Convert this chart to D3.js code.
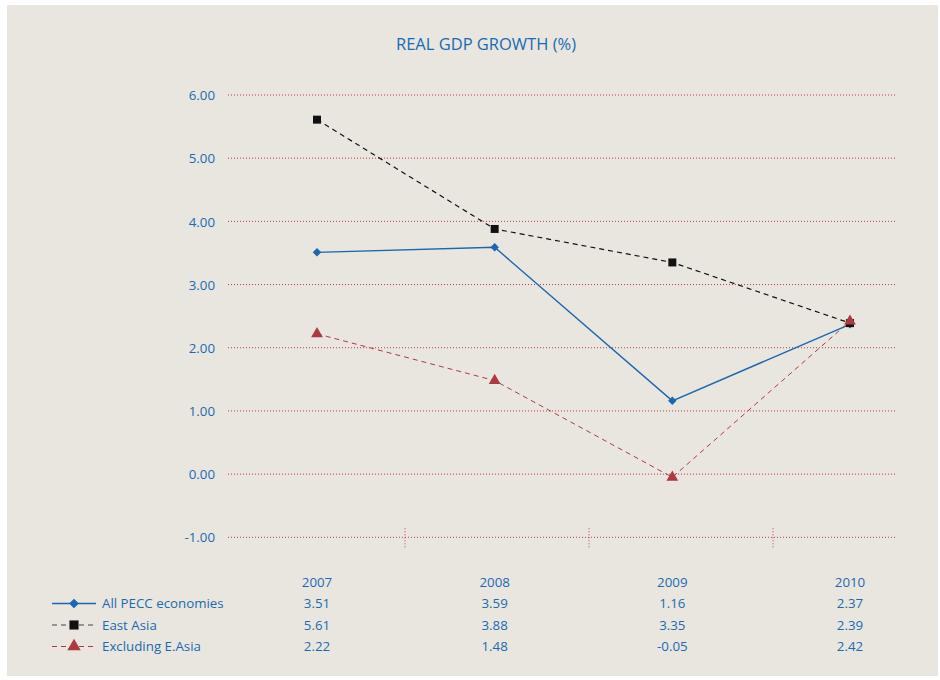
<!DOCTYPE html>
<html>
<head>
<meta charset="utf-8">
<script src="https://cdn.jsdelivr.net/npm/d3@7"></script>
<style>
  html, body { margin: 0; padding: 0; background: #ffffff; }
  svg { display: block; }
  text { font-family: "Open Sans", "Noto Sans", sans-serif; }
</style>
</head>
<body>
<svg id="chart" width="940" height="680"></svg>
<script>
// Real GDP growth (%) by year
const years = ["2007", "2008", "2009", "2010"];
const allPecc = [3.51, 3.59, 1.16, 2.37];
const eastAsia = [5.61, 3.88, 3.35, 2.39];
const exclEastAsia = [2.22, 1.48, -0.05, 2.42];
const seriesNames = ["All PECC economies", "East Asia", "Excluding E.Asia"];
const yTicks = [-1, 0, 1, 2, 3, 4, 5, 6];

const blue = "#1b67b0";
const textBlue = "#1a6ab3";
const red = "#ad3a40";
const gridRed = "#c0393f";

// plain hyphen for negatives
const fmt = v => d3.format(".2f")(v).replace("\u2212", "-");

const series = [
  { name: seriesNames[0], values: allPecc, color: blue, dash: null, width: 1.4, symbol: d3.symbolSquare, size: 36, rotate: 45 },
  { name: seriesNames[1], values: eastAsia, color: "#111111", dash: "5,4", width: 1.2, symbol: d3.symbolSquare, size: 64, rotate: 0 },
  { name: seriesNames[2], values: exclEastAsia, color: red, dash: "5,4", width: 1.0, symbol: d3.symbolTriangle, size: 60, rotate: 0 }
];

const svg = d3.select("#chart");

// panel background
svg.append("rect")
  .attr("x", 7).attr("y", 5)
  .attr("width", 931).attr("height", 671)
  .attr("fill", "#e9e6df");

const x = d3.scalePoint().domain(years).range([317, 850]);
const y = d3.scaleLinear().domain([-1, 6]).range([537.3, 95]);
// category separators along the bottom gridline
const sep = d3.scaleBand().domain(years).range([221, 957]);

// title
svg.append("text")
  .attr("x", 486).attr("y", 50)
  .attr("text-anchor", "middle")
  .attr("fill", textBlue)
  .attr("font-size", 16.5)
  .attr("font-weight", 500)
  .text("REAL GDP GROWTH (%)");

// horizontal dotted gridlines
svg.append("g").selectAll("line")
  .data(yTicks).join("line")
  .attr("x1", 228).attr("x2", 895)
  .attr("y1", d => y(d)).attr("y2", d => y(d))
  .attr("stroke", gridRed)
  .attr("stroke-width", 1)
  .attr("stroke-dasharray", "1,2");

// y-axis labels
const yAxis = d3.axisLeft(y).tickValues(yTicks).tickFormat(fmt).tickSize(0).tickPadding(0);
const yg = svg.append("g").attr("transform", "translate(215,0)").call(yAxis);
yg.select(".domain").remove();
yg.selectAll("text")
  .attr("fill", textBlue)
  .attr("font-size", 13.3)
  .attr("font-weight", 500)
  .attr("font-family", "\"Open Sans\", \"Noto Sans\", sans-serif")
  .attr("dy", "0.35em");

// vertical separators between categories
svg.append("g").selectAll("line")
  .data(years.slice(1)).join("line")
  .attr("x1", d => sep(d)).attr("x2", d => sep(d))
  .attr("y1", y(-1) - 9).attr("y2", y(-1) + 10)
  .attr("stroke", gridRed)
  .attr("stroke-width", 1)
  .attr("stroke-dasharray", "1,2");

// series lines and markers
const line = d3.line().x((d, i) => x(years[i])).y(d => y(d));
series.forEach(s => {
  svg.append("path")
    .attr("d", line(s.values))
    .attr("fill", "none")
    .attr("stroke", s.color)
    .attr("stroke-width", s.width)
    .attr("stroke-dasharray", s.dash);
});
series.forEach(s => {
  svg.append("g").selectAll("path")
    .data(s.values).join("path")
    .attr("transform", (d, i) => `translate(${x(years[i])},${y(d)}) rotate(${s.rotate})`)
    .attr("d", d3.symbol().type(s.symbol).size(s.size))
    .attr("fill", s.color);
});

// data table below the chart
const headerY = 587;
const rowY = d3.scalePoint().domain(seriesNames).range([608, 651]);
const tableText = sel => sel
  .attr("fill", textBlue)
  .attr("font-size", 13.3)
  .attr("font-weight", 500);

svg.append("g").selectAll("text")
  .data(years).join("text")
  .attr("x", d => x(d)).attr("y", headerY)
  .attr("text-anchor", "middle")
  .call(tableText)
  .text(d => d);

series.forEach(s => {
  const ry = rowY(s.name) - 4.5;
  svg.append("line")
    .attr("x1", 52).attr("x2", 96)
    .attr("y1", ry).attr("y2", ry)
    .attr("stroke", s.color === "#111111" ? "#444444" : s.color)
    .attr("stroke-width", s.width)
    .attr("stroke-dasharray", s.dash);
  svg.append("path")
    .attr("transform", `translate(74,${ry}) rotate(${s.rotate})`)
    .attr("d", d3.symbol().type(s.symbol).size(s.size * 1.3))
    .attr("fill", s.color);
  svg.append("text")
    .attr("x", 102).attr("y", rowY(s.name))
    .call(tableText)
    .text(s.name);
  svg.append("g").selectAll("text")
    .data(s.values).join("text")
    .attr("x", (d, i) => x(years[i])).attr("y", rowY(s.name))
    .attr("text-anchor", "middle")
    .call(tableText)
    .text(d => fmt(d));
});
</script>
</body>
</html>
